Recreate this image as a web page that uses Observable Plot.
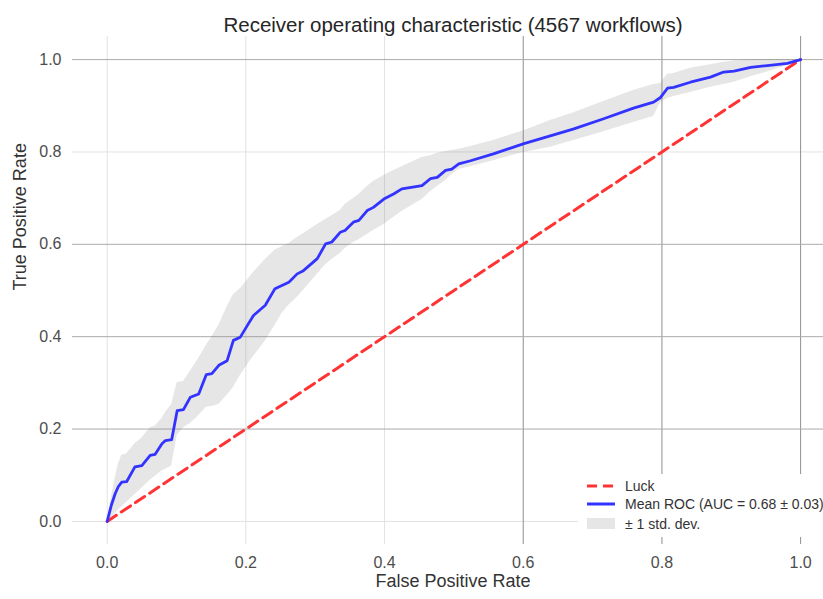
<!DOCTYPE html>
<html>
<head>
<meta charset="utf-8">
<script src="https://cdn.jsdelivr.net/npm/d3@7"></script>
<script src="https://cdn.jsdelivr.net/npm/@observablehq/plot@0.6"></script>
<style>
  html, body { margin: 0; padding: 0; background: #fff; }
  #wrap { position: relative; width: 823px; height: 599px; font-family: "Liberation Sans", Arial, sans-serif; }
  #legend { position: absolute; left: 578px; top: 474px; width: 245px; height: 63px; background: #fff; font-size: 14px; color: #333; }
  .item { position: absolute; left: 9px; height: 18px; display: flex; align-items: center; white-space: nowrap; }
  .item svg { margin-right: 10px; }
</style>
</head>
<body>
<div id="wrap">
  <div id="chart"></div>
  <div id="legend"></div>
</div>
<script>
const title = "Receiver operating characteristic (4567 workflows)";
const xLabel = "False Positive Rate";
const yLabel = "True Positive Rate";
const tickValues = [0, 0.2, 0.4, 0.6, 0.8, 1.0];
const legendLabels = ["Luck", "Mean ROC (AUC = 0.68 \u00b1 0.03)", "\u00b1 1 std. dev."];

// Chance diagonal
const luckFpr = [0, 1];
const luckTpr = [0, 1];

// Mean ROC curve
const meanFpr = [0, 0.006, 0.0115, 0.016, 0.021, 0.028, 0.040, 0.050, 0.062, 0.069, 0.079, 0.084, 0.093, 0.101, 0.110, 0.120, 0.132, 0.143, 0.151, 0.161, 0.173, 0.182, 0.192, 0.202, 0.211, 0.228, 0.242, 0.252, 0.262, 0.274, 0.283, 0.303, 0.315, 0.324, 0.336, 0.343, 0.355, 0.363, 0.375, 0.384, 0.399, 0.413, 0.425, 0.454, 0.466, 0.476, 0.488, 0.497, 0.507, 0.524, 0.557, 0.601, 0.639, 0.673, 0.716, 0.759, 0.788, 0.798, 0.808, 0.817, 0.841, 0.870, 0.889, 0.904, 0.928, 0.952, 0.981, 1.0];
const meanTpr = [0, 0.035, 0.060, 0.075, 0.085, 0.086, 0.118, 0.121, 0.143, 0.145, 0.168, 0.175, 0.177, 0.240, 0.242, 0.269, 0.276, 0.318, 0.320, 0.338, 0.348, 0.392, 0.399, 0.424, 0.446, 0.468, 0.504, 0.511, 0.518, 0.536, 0.543, 0.569, 0.601, 0.605, 0.626, 0.630, 0.648, 0.652, 0.673, 0.680, 0.698, 0.709, 0.720, 0.727, 0.742, 0.745, 0.760, 0.763, 0.774, 0.781, 0.796, 0.818, 0.835, 0.850, 0.872, 0.895, 0.908, 0.918, 0.938, 0.940, 0.951, 0.962, 0.973, 0.975, 0.983, 0.987, 0.992, 1.0];
// +/- 1 std. dev. band edges at the same FPR values
const tprUpper = [0, 0.052, 0.093, 0.123, 0.143, 0.146, 0.168, 0.180, 0.203, 0.206, 0.223, 0.236, 0.253, 0.301, 0.303, 0.325, 0.353, 0.381, 0.400, 0.424, 0.465, 0.491, 0.504, 0.522, 0.539, 0.567, 0.587, 0.595, 0.602, 0.615, 0.623, 0.643, 0.654, 0.662, 0.673, 0.686, 0.699, 0.708, 0.725, 0.736, 0.749, 0.760, 0.768, 0.788, 0.792, 0.797, 0.801, 0.803, 0.806, 0.812, 0.825, 0.846, 0.868, 0.885, 0.909, 0.933, 0.946, 0.948, 0.968, 0.970, 0.981, 0.989, 0.994, 0.997, 1.0, 1.0, 1.0, 1.0];
const tprLower = [0, 0.004, 0.017, 0.024, 0.031, 0.041, 0.058, 0.072, 0.089, 0.097, 0.109, 0.113, 0.120, 0.186, 0.203, 0.212, 0.229, 0.247, 0.249, 0.253, 0.273, 0.290, 0.316, 0.338, 0.357, 0.390, 0.424, 0.450, 0.468, 0.485, 0.500, 0.535, 0.556, 0.567, 0.580, 0.591, 0.604, 0.610, 0.621, 0.630, 0.643, 0.658, 0.671, 0.697, 0.714, 0.725, 0.738, 0.751, 0.762, 0.768, 0.781, 0.799, 0.810, 0.825, 0.844, 0.864, 0.877, 0.907, 0.916, 0.920, 0.929, 0.940, 0.946, 0.951, 0.963, 0.973, 0.987, 1.0];

const curve = meanFpr.map((f, i) => ({fpr: f, tpr: meanTpr[i], hi: tprUpper[i], lo: tprLower[i]}));
const luck = luckFpr.map((f, i) => ({fpr: f, tpr: luckTpr[i]}));

const darkX = new Set([0.6, 0.8, 1.0]);
const darkY = new Set([0.2, 0.4, 0.6, 1.0]);

const chart = Plot.plot({
  width: 823,
  height: 599,
  marginLeft: 72,
  marginRight: 0,
  marginTop: 36,
  marginBottom: 55,
  style: {fontFamily: "Liberation Sans, Arial, sans-serif", fontSize: "16px", background: "#fff"},
  x: {domain: [-0.05, 1.033]},
  y: {domain: [-0.05, 1.05]},
  marks: [
    Plot.ruleX(tickValues.filter(v => !darkX.has(v)), {stroke: "#e2e2e2", strokeWidth: 1}),
    Plot.ruleY(tickValues.filter(v => !darkY.has(v)), {stroke: "#e2e2e2", strokeWidth: 1}),
    Plot.ruleX(tickValues.filter(v => darkX.has(v)), {stroke: "#8f8f8f", strokeWidth: 1}),
    Plot.ruleY(tickValues.filter(v => darkY.has(v)), {stroke: "#ababab", strokeWidth: 1}),
    Plot.areaY(curve, {x: "fpr", y1: "lo", y2: "hi", fill: "grey", fillOpacity: 0.2}),
    Plot.line(luck, {x: "fpr", y: "tpr", stroke: "#ff3333", strokeWidth: 3, strokeDasharray: "11,6"}),
    Plot.line(curve, {x: "fpr", y: "tpr", stroke: "#3333ff", strokeWidth: 2.8}),
    Plot.axisX({ticks: tickValues, tickFormat: d3.format(".1f"), tickSize: 0, tickPadding: 12, color: "#4d4d4d", label: null}),
    Plot.axisY({ticks: tickValues, tickFormat: d3.format(".1f"), tickSize: 0, tickPadding: 11, color: "#4d4d4d", label: null}),
    Plot.text([title], {frameAnchor: "top", dx: 5, dy: -19, fontSize: 20.5, fill: "#262626"}),
    Plot.text([xLabel], {frameAnchor: "bottom", dx: 5, dy: 42, fontSize: 18, fill: "#333"}),
    Plot.text([yLabel], {frameAnchor: "left", dx: -52, rotate: -90, fontSize: 18, fill: "#333"})
  ]
});
document.getElementById("chart").appendChild(chart);

// Legend
const legend = d3.select("#legend");
const swatches = [
  (s) => s.append("line").attr("x1", 0).attr("x2", 28).attr("y1", 6).attr("y2", 6).attr("stroke", "#ff3333").attr("stroke-width", 3).attr("stroke-dasharray", "10,6"),
  (s) => s.append("line").attr("x1", 0).attr("x2", 28).attr("y1", 6).attr("y2", 6).attr("stroke", "#3333ff").attr("stroke-width", 3),
  (s) => s.append("rect").attr("x", 0).attr("y", 0).attr("width", 28).attr("height", 11).attr("fill", "#e6e6e6")
];
const tops = [3, 21, 41];
legendLabels.forEach((lab, i) => {
  const it = legend.append("div").attr("class", "item").style("top", tops[i] + "px");
  const s = it.append("svg").attr("width", 28).attr("height", 12);
  swatches[i](s);
  it.append("span").text(lab);
});
</script>
</body>
</html>
